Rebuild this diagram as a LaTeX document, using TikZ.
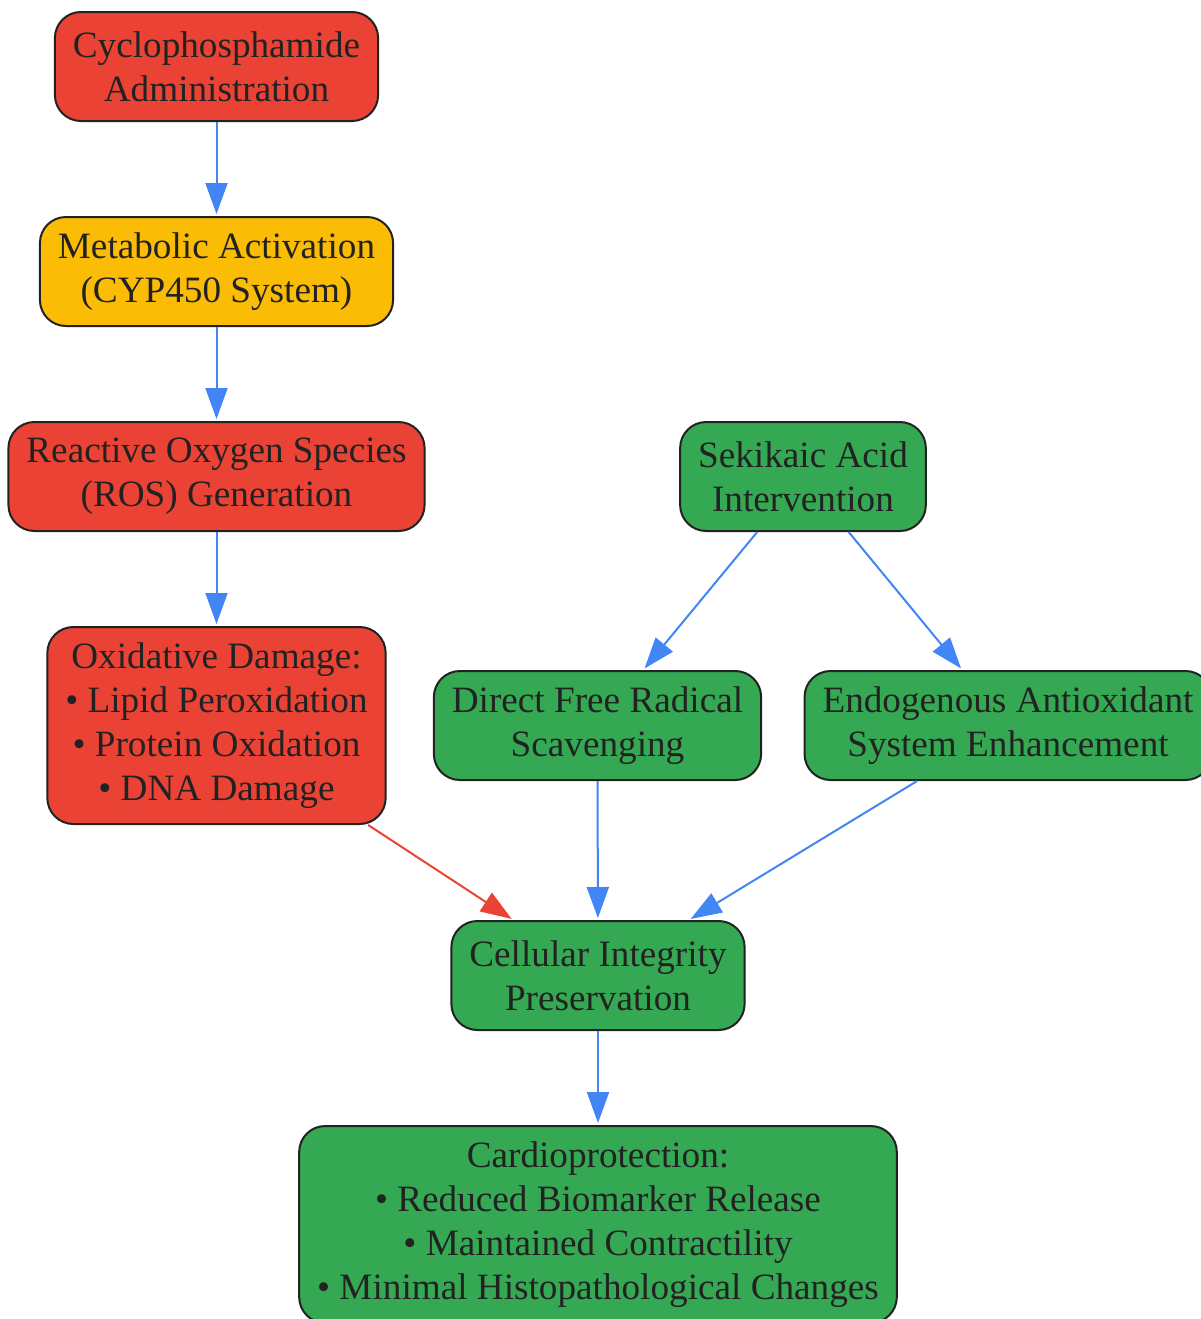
\documentclass[tikz,border=0pt]{standalone}
\usepackage{fontspec}
\setmainfont{Liberation Serif}
\usepackage{xcolor}
\usetikzlibrary{arrows.meta, positioning}
\definecolor{gred}{HTML}{EA4335}
\definecolor{gyellow}{HTML}{FBBC05}
\definecolor{ggreen}{HTML}{34A853}
\definecolor{gblue}{HTML}{4285F4}
\definecolor{ink}{HTML}{222222}
\newcommand{\topstrut}{\rule{0pt}{19pt}}
\newcommand{\botstrut}{\rule{0pt}{0pt}}

\begin{document}
\begin{tikzpicture}[
    x=0.5pt, y=-0.5pt,
    node distance=47pt and 40pt,
    every node/.style={font=\fontsize{18.6}{22}\selectfont, text=ink},
    box/.style={rectangle, draw=ink, line width=1pt, rounded corners=13pt, align=center, inner xsep=9pt, inner ysep=0pt, minimum height=54.5pt,
        execute at begin node=\topstrut, execute at end node=\botstrut},
    harm/.style={box, fill=gred},
    meta/.style={box, fill=gyellow},
    protect/.style={box, fill=ggreen},
    tall/.style={minimum height=98.5pt},
    arr/.style={-{Triangle[length=15.5pt, width=11pt]}, line width=1pt, draw=gblue, shorten >=1pt},
    redarr/.style={arr, draw=gred}
]
\useasboundingbox (0,0) rectangle (1201,1319);

% Left column: damage pathway
\node[harm] (cyclo) at (216.5,66.5) {Cyclophosphamide\\Administration};
\node[meta, below=of cyclo] (metab) {Metabolic Activation\\(CYP450 System)};
\node[harm, below=of metab] (ros) {Reactive Oxygen Species\\(ROS) Generation};
\node[harm, tall, below=of ros] (oxid) {Oxidative Damage:\\• Lipid Peroxidation\\• Protein Oxidation\\• DNA Damage};

% Right side: intervention
\node[protect] (sekikaic) at (803,476.5) {Sekikaic Acid\\Intervention};
\node[protect] (direct) at (597.5,725.5) {Direct Free Radical\\Scavenging};
\node[protect] (endog) at (1008,725.5) {Endogenous Antioxidant\\System Enhancement};

% Bottom: outcome
\node[protect] (cellular) at (598,975.5) {Cellular Integrity\\Preservation};
\node[protect, tall, below=of cellular] (cardio) {Cardioprotection:\\• Reduced Biomarker Release\\• Maintained Contractility\\• Minimal Histopathological Changes};

% Arrows
\draw[arr] (cyclo) -- (metab);
\draw[arr] (metab) -- (ros);
\draw[arr] (ros) -- (oxid);
\draw[arr] (sekikaic) -- (direct);
\draw[arr] (sekikaic) -- (endog);
\draw[redarr] (oxid) -- (cellular);
\draw[arr] (direct) -- (cellular);
\draw[arr] (endog) -- (cellular);
\draw[arr] (cellular) -- (cardio);

\end{tikzpicture}
\end{document}
